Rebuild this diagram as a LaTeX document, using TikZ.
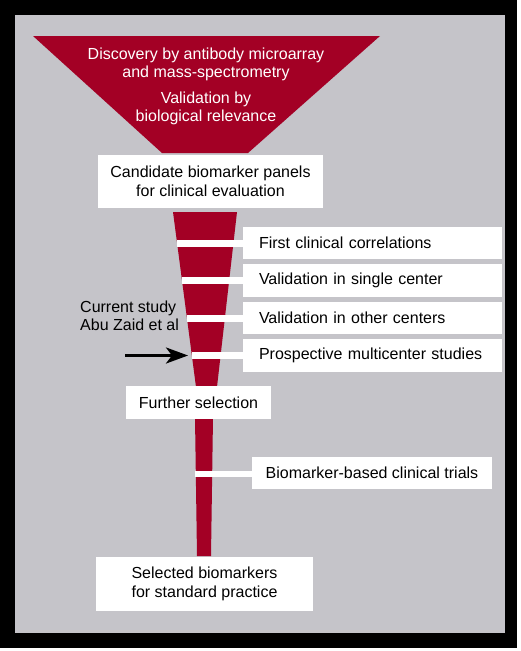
\documentclass[tikz,border=0pt]{standalone}
\usepackage{fontspec}
\setmainfont{Liberation Sans}
\usetikzlibrary{arrows.meta}
\definecolor{funnelred}{RGB}{163,0,37}
\definecolor{bggray}{RGB}{197,196,201}

\begin{document}
\begin{tikzpicture}[x=1pt,y=-1pt,
  txt/.style={font=\fontsize{16}{18.5}\selectfont, inner sep=0pt},
  box/.style={txt, fill=white, draw=none},
  stepbox/.style={box, text width=227pt, align=left, inner xsep=16pt, inner ysep=0pt, minimum height=32.5pt},
  band/.style={draw=white, line width=7pt},
  funnel/.style={fill=funnelred, draw=none}]
\useasboundingbox (0,0) rectangle (520,651);
\fill[white] (0,0) rectangle (520,651);
\fill[black] (0,0) rectangle (517,648);
\fill[bggray] (15,15) rectangle (505,633);

% top funnel
\fill[funnel] (33,36) -- (380,36) -- (248,153) -- (162,153) -- cycle;
\node[txt, text=white, align=center] (disc) at (206,64.5) {Discovery by antibody microarray\\and mass-spectrometry};
\node[txt, text=white, align=center] (valid) at (206,108.5) {Validation by\\biological relevance};

% tapered funnel and stem
\fill[funnel] (173,212) -- (237,212) -- (217,387) -- (196,387) -- cycle;
\fill[funnel] (195,417) -- (213,417) -- (211,556) -- (197,556) -- cycle;

\node[box, align=center, minimum width=225pt, minimum height=53pt] (cand) at (210.5,181.5) {Candidate biomarker panels\\for clinical evaluation};

\node[stepbox] (s1) at (372.5,243) {First clinical correlations};
\node[stepbox] (s2) at (372.5,280.5) {Validation in single center};
\node[stepbox] (s3) at (372.5,318) {Validation in other centers};
\node[stepbox] (s4) at (372.5,355.5) {Prospective multicenter studies};

\coordinate (g1) at (177.1,243);
\coordinate (g2) at (182.0,280.5);
\coordinate (g3) at (186.9,318);
\coordinate (g4) at (191.9,355.5);
\draw[band] (g1) -- (s1.west);
\draw[band] (g2) -- (s2.west);
\draw[band] (g3) -- (s3.west);
\draw[band] (g4) -- (s4.west);

\node[txt, align=left, anchor=north west] (cur) at (80,300.5) {Current study\\Abu Zaid et al};
\coordinate (arrowstart) at (125,355.5);
\coordinate (arrowend) at (188,355.5);
\draw[-{Stealth[length=22pt,width=16pt,inset=6pt]}, line width=3pt] (arrowstart) -- (arrowend);

\node[box, minimum width=145pt, minimum height=33pt] (fur) at (198.5,402.5) {Further selection};

\node[box, minimum width=240pt, minimum height=32pt] (trial) at (372,473) {Biomarker-based clinical trials};
\coordinate (g5) at (195.3,474);
\draw[band, line width=6pt] (g5) -- (g5 -| trial.west);

\node[box, align=left, minimum width=217pt, minimum height=54pt] (sel) at (204.5,584) {Selected biomarkers\\for standard practice};
\end{tikzpicture}
\end{document}
